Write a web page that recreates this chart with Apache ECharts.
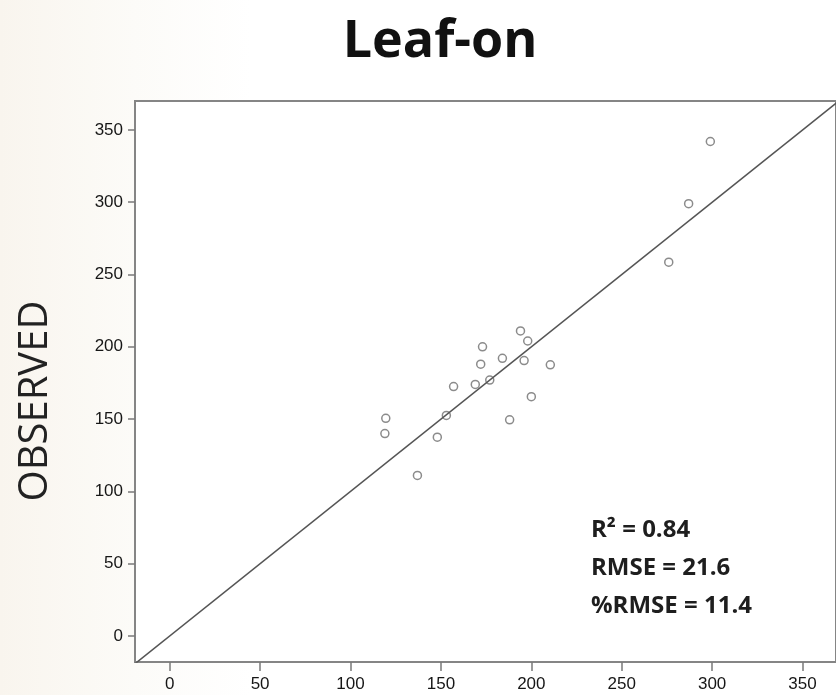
<!DOCTYPE html>
<html>
<head>
<meta charset="utf-8">
<title>Leaf-on</title>
<script src="https://cdn.jsdelivr.net/npm/echarts@6/dist/echarts.min.js"></script>
<style>
  html, body { margin: 0; padding: 0; background: #ffffff; }
  #chart { width: 836px; height: 695px; }
</style>
</head>
<body>
<div id="chart"></div>
<script>
// Predicted vs. observed values for each plot
const predicted = [299, 287, 276, 194, 198, 173, 184, 196, 172, 210.5, 177, 169, 157, 200, 153, 188, 148, 119.5, 119, 137];
const observed  = [342, 299, 258.5, 211, 204, 200, 192, 190.5, 188, 187.5, 177, 174, 172.5, 165.5, 152.5, 149.5, 137.5, 150.5, 140, 111];

// Axis ticks shared by both axes
const tickValues = [0, 50, 100, 150, 200, 250, 300, 350];

// 1:1 reference line end points
const oneToOne = [-30, 400];

// Fit statistics shown in the lower-right corner
const statLines = ['R\u00B2 = 0.84', 'RMSE = 21.6', '%RMSE = 11.4'];

const points = predicted.map((p, i) => [p, observed[i]]);

const chart = echarts.init(document.getElementById('chart'), null, { renderer: 'canvas' });

const axisCommon = {
  type: 'value',
  splitLine: { show: false },
  axisLine: { show: true, onZero: false, lineStyle: { color: '#858585', width: 2 } },
  axisTick: { show: true, inside: false, customValues: tickValues, lineStyle: { color: '#7a7a7a', width: 1.5 } },
  axisLabel: {
    customValues: tickValues,
    color: '#161616',
    fontFamily: 'Liberation Sans, Arial, sans-serif',
    fontSize: 17
  }
};

const option = {
  backgroundColor: {
    type: 'linear', x: 0, y: 0, x2: 1, y2: 0,
    colorStops: [
      { offset: 0, color: '#f9f5ee' },
      { offset: 0.16, color: '#fcfbf8' },
      { offset: 0.3, color: '#ffffff' },
      { offset: 1, color: '#ffffff' }
    ]
  },
  animation: false,
  title: {
    text: 'Leaf-on',
    left: 435,
    top: 11,
    textAlign: 'center',
    textStyle: {
      fontFamily: 'Open Sans',
      fontWeight: 'bold',
      fontSize: 52,
      color: '#111111'
    }
  },
  grid: {
    left: 135,
    top: 101,
    right: -6,
    bottom: 33,
    show: true,
    backgroundColor: '#ffffff',
    borderColor: '#858585',
    borderWidth: 2
  },
  xAxis: Object.assign({}, axisCommon, {
    min: -19.2,
    max: 368.5,
    axisTick: Object.assign({}, axisCommon.axisTick, { length: 9 }),
    axisLabel: Object.assign({}, axisCommon.axisLabel, { margin: 14 })
  }),
  yAxis: Object.assign({}, axisCommon, {
    min: -18,
    max: 370,
    axisTick: Object.assign({}, axisCommon.axisTick, { length: 7 }),
    axisLabel: Object.assign({}, axisCommon.axisLabel, { margin: 12 })
  }),
  graphic: [
    {
      type: 'text',
      x: 36,
      y: 401,
      rotation: Math.PI / 2,
      style: {
        text: 'OBSERVED',
        align: 'center',
        verticalAlign: 'middle',
        fontFamily: 'Open Sans',
        fontSize: 40,
        fill: '#222222'
      }
    }
  ].concat(statLines.map((t, i) => ({
    type: 'text',
    left: 591,
    top: 518 + i * 38,
    style: {
      text: t,
      fontFamily: 'Open Sans',
      fontWeight: 'bold',
      fontSize: 24,
      fill: '#1e1e1e'
    }
  }))),
  series: [
    {
      type: 'line',
      data: oneToOne.map(v => [v, v]),
      showSymbol: false,
      clip: true,
      lineStyle: { color: '#555555', width: 1.5 },
      silent: true
    },
    {
      type: 'scatter',
      data: points,
      symbol: 'circle',
      symbolSize: 8,
      itemStyle: {
        color: 'rgba(255,255,255,0)',
        borderColor: '#6e6e6e',
        borderWidth: 1.5
      }
    }
  ]
};

chart.setOption(option);
</script>
</body>
</html>
